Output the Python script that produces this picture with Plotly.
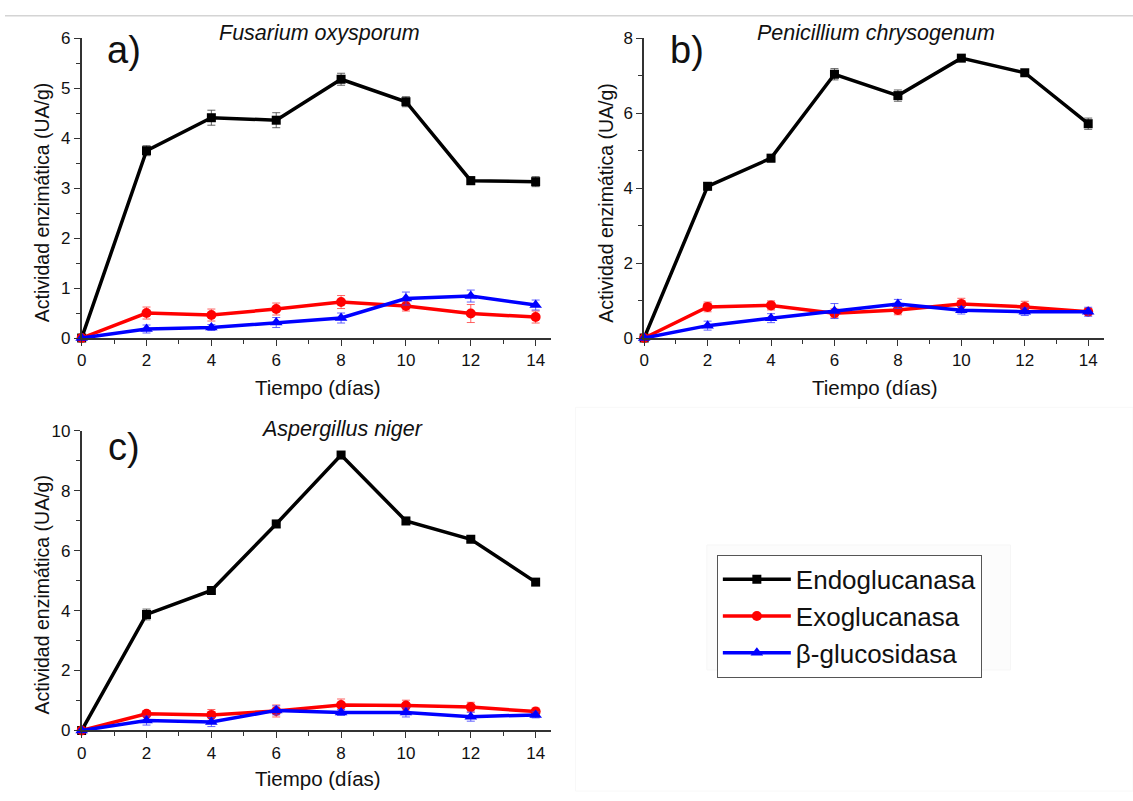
import plotly.graph_objects as go

W, H = 1133, 801

dias = [0, 2, 4, 6, 8, 10, 12, 14]

# a) Fusarium oxysporum
fus_endo = [0, 3.75, 4.41, 4.36, 5.18, 4.73, 3.15, 3.13]
fus_endo_err = [0, 0.10, 0.15, 0.15, 0.12, 0.10, 0.08, 0.10]
fus_exo = [0, 0.50, 0.46, 0.58, 0.72, 0.64, 0.49, 0.42]
fus_exo_err = [0, 0.12, 0.12, 0.12, 0.13, 0.10, 0.18, 0.12]
fus_beta = [0, 0.18, 0.21, 0.31, 0.40, 0.79, 0.84, 0.66]
fus_beta_err = [0, 0.08, 0.06, 0.10, 0.10, 0.13, 0.12, 0.10]

# b) Penicillium chrysogenum
pen_endo = [0, 4.05, 4.80, 7.04, 6.47, 7.47, 7.08, 5.72]
pen_endo_err = [0, 0.10, 0.10, 0.15, 0.15, 0.08, 0.07, 0.15]
pen_exo = [0, 0.83, 0.87, 0.66, 0.75, 0.91, 0.83, 0.70]
pen_exo_err = [0, 0.13, 0.12, 0.12, 0.13, 0.15, 0.15, 0.08]
pen_beta = [0, 0.33, 0.53, 0.72, 0.91, 0.74, 0.70, 0.70]
pen_beta_err = [0, 0.12, 0.12, 0.20, 0.12, 0.10, 0.10, 0.12]

# c) Aspergillus niger
asp_endo = [0, 3.87, 4.67, 6.89, 9.19, 6.99, 6.38, 4.95]
asp_endo_err = [0, 0.18, 0.10, 0.12, 0.10, 0.12, 0.08, 0.10]
asp_exo = [0, 0.56, 0.52, 0.65, 0.85, 0.83, 0.78, 0.63]
asp_exo_err = [0, 0.10, 0.18, 0.20, 0.20, 0.18, 0.16, 0.12]
asp_beta = [0, 0.33, 0.28, 0.67, 0.60, 0.60, 0.46, 0.52]
asp_beta_err = [0, 0.15, 0.15, 0.15, 0.10, 0.15, 0.15, 0.10]

series_names = ["Endoglucanasa", "Exoglucanasa", "β-glucosidasa"]
titles = ["Fusarium oxysporum", "Penicillium chrysogenum", "Aspergillus niger"]
panel_labels = ["a)", "b)", "c)"]
y_max = [6, 8, 10]
y_dtick = [1, 2, 2]

panels = [
    [(fus_endo, fus_endo_err), (fus_exo, fus_exo_err), (fus_beta, fus_beta_err)],
    [(pen_endo, pen_endo_err), (pen_exo, pen_exo_err), (pen_beta, pen_beta_err)],
    [(asp_endo, asp_endo_err), (asp_exo, asp_exo_err), (asp_beta, asp_beta_err)],
]

colors = ["#000000", "#ff0000", "#0000ff"]
err_colors = ["rgba(60,60,60,0.8)", "rgba(255,60,60,0.8)", "rgba(60,60,255,0.8)"]
symbols = ["square", "circle", "triangle-up"]
msizes = [9, 10, 11]

FONT = "Liberation Sans, Arial, sans-serif"

# pixel layout of each panel: (x_left, x_right, y_top, y_bottom)
boxes = [(77, 548, 30, 337), (642, 1104, 30, 337), (77, 548, 432, 739)]

fig = go.Figure()
for p, panel in enumerate(panels):
    ax = "" if p == 0 else str(p + 1)
    for s, (vals, errs) in enumerate(panel):
        fig.add_trace(go.Scatter(
            x=dias, y=vals,
            error_y=dict(type="data", array=errs, visible=True,
                         color=err_colors[s], thickness=1, width=4),
            mode="lines+markers",
            name=series_names[s],
            legendgroup=series_names[s],
            showlegend=(p == 0),
            line=dict(color=colors[s], width=3.5),
            marker=dict(symbol=symbols[s], size=msizes[s], color=colors[s]),
            cliponaxis=False,
            xaxis="x" + ax, yaxis="y" + ax,
        ))

layout = dict(
    width=W, height=H,
    margin=dict(l=0, r=0, t=0, b=0),
    paper_bgcolor="white", plot_bgcolor="white",
    font=dict(family=FONT, color="#111111"),
    showlegend=True,
    legend=dict(
        x=715 / W, y=1 - 559 / H, xanchor="left", yanchor="top",
        bordercolor="#555555", borderwidth=1, bgcolor="white",
        font=dict(size=26, family=FONT, color="#111111"),
        itemwidth=68, tracegroupgap=0,
    ),
)

annotations = []
shapes = []
for p, (xl, xr, yt, yb) in enumerate(boxes):
    ax = "" if p == 0 else str(p + 1)
    px_per = (533 - 77) / 14 if p != 1 else (1088 - 642) / 14
    xmax = (xr - xl) / px_per
    layout["xaxis" + ax] = dict(
        domain=[xl / W, xr / W], anchor="y" + ax,
        range=[0, xmax], tickmode="array", tickvals=dias,
        ticks="outside", ticklen=6, tickwidth=1.3, tickcolor="#333333",
        minor=dict(tickvals=[1, 3, 5, 7, 9, 11, 13], ticks="outside",
                   ticklen=4, tickwidth=1.2, tickcolor="#333333"),
        showline=True, linecolor="#333333", linewidth=1.5,
        showgrid=False, zeroline=False,
        tickfont=dict(size=17, family=FONT, color="#111111"),
        fixedrange=True,
    )
    layout["yaxis" + ax] = dict(
        domain=[1 - yb / H, 1 - yt / H], anchor="x" + ax,
        range=[0, y_max[p]], dtick=y_dtick[p], tick0=0,
        ticks="outside", ticklen=6, tickwidth=1.3, tickcolor="#333333",
        minor=dict(dtick=y_dtick[p] / 2, ticks="outside", ticklen=4,
                   tickwidth=1.2, tickcolor="#333333"),
        showline=True, linecolor="#333333", linewidth=1.5,
        showgrid=False, zeroline=False,
        tickfont=dict(size=17, family=FONT, color="#111111"),
        fixedrange=True,
    )

# texts
title_pos = [(316, 25), (875, 25), (338, 430)]
label_pos = [(120, 42), (685, 42), (120, 449)]
ytitle_pos = [(37, 198), (604, 198), (37, 600)]
xtitle_pos = [(314, 388), (874, 388), (314, 788)]
for p in range(3):
    annotations.append(dict(
        text="<i>" + titles[p] + "</i>", xref="paper", yref="paper",
        x=title_pos[p][0] / W, y=1 - title_pos[p][1] / H,
        xanchor="center", yanchor="middle", showarrow=False,
        font=dict(size=21.5, family=FONT, color="#111111")))
    annotations.append(dict(
        text=panel_labels[p], xref="paper", yref="paper",
        x=label_pos[p][0] / W, y=1 - label_pos[p][1] / H,
        xanchor="center", yanchor="middle", showarrow=False,
        font=dict(size=38, family=FONT, color="#111111")))
    annotations.append(dict(
        text="Actividad enzimática (UA/g)", xref="paper", yref="paper",
        x=ytitle_pos[p][0] / W, y=1 - ytitle_pos[p][1] / H, textangle=-90,
        xanchor="center", yanchor="middle", showarrow=False,
        font=dict(size=19.5, family=FONT, color="#111111")))
    annotations.append(dict(
        text="Tiempo (días)", xref="paper", yref="paper",
        x=xtitle_pos[p][0] / W, y=1 - xtitle_pos[p][1] / H,
        xanchor="center", yanchor="middle", showarrow=False,
        font=dict(size=20.5, family=FONT, color="#111111")))

# faint page decorations
shapes.append(dict(type="line", xref="paper", yref="paper",
                   x0=0, x1=1, y0=1 - 7 / H, y1=1 - 7 / H,
                   line=dict(color="#d4d4d4", width=1.5), layer="below"))
shapes.append(dict(type="rect", xref="paper", yref="paper",
                   x0=573 / W, x1=1.0, y0=0, y1=1 - 408 / H,
                   line=dict(color="#f8f8f8", width=1), fillcolor="rgba(0,0,0,0)",
                   layer="below"))
shapes.append(dict(type="rect", xref="paper", yref="paper",
                   x0=705 / W, x1=1010 / W, y0=1 - 677 / H, y1=1 - 549 / H,
                   line=dict(color="#f6f6f6", width=1), fillcolor="#fcfcfc",
                   layer="below"))

layout["annotations"] = annotations
layout["shapes"] = shapes
fig.update_layout(**layout)

fig.write_html("out.html")
